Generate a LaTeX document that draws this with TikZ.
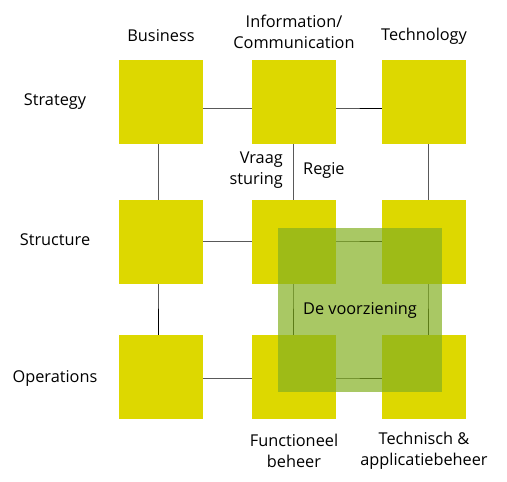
\documentclass[tikz,border=0pt]{standalone}
\usepackage{fontspec}
\setmainfont{Open Sans}
\usetikzlibrary{positioning}
\definecolor{squareyellow}{RGB}{221,216,0}
\definecolor{zonegreen}{RGB}{132,176,34}

\begin{document}
\begin{tikzpicture}[x=1pt,y=-1pt,
    every node/.style={font=\fontsize{16.3}{20.5}\selectfont}]
  \tikzstyle{blockY}=[rectangle,fill=squareyellow,minimum size=84pt,inner sep=0pt]
  \tikzstyle{link}=[line width=1pt,black]
  \tikzstyle{lbl}=[align=center,inner sep=0pt]
  \useasboundingbox (0,0) rectangle (507,482);

  % Grid junctions
  \coordinate (j11) at (158,108); \coordinate (j12) at (293,108); \coordinate (j13) at (428,108);
  \coordinate (j21) at (158,241); \coordinate (j22) at (293,241); \coordinate (j23) at (428,241);
  \coordinate (j31) at (158,378); \coordinate (j32) at (293,378); \coordinate (j33) at (428,378);

  % Links
  \draw[link] (j11) -- (j12) -- (j13);
  \draw[link] (j21) -- (j22) -- (j23);
  \draw[link] (j31) -- (j32) -- (j33);
  \draw[link] (j11) -- (j21) -- (j31);
  \draw[link] (j12) -- (j22) -- (j32);
  \draw[link] (j13) -- (j23) -- (j33);

  % Squares
  \node[blockY] (bs) at (161,102) {};
  \node[blockY] (is) at (294,102) {};
  \node[blockY] (ts) at (424,102) {};
  \node[blockY] (bt) at (161,241.5) {};
  \node[blockY] (it) at (294,241.5) {};
  \node[blockY] (tt) at (424,241.5) {};
  \node[blockY] (bo) at (161,376.5) {};
  \node[blockY] (io) at (294,376.5) {};
  \node[blockY] (to) at (424,376.5) {};

  % Voorziening
  \node[rectangle,fill=zonegreen,fill opacity=0.7,text opacity=1,minimum size=164pt,inner sep=0pt]
    (zone) at (360,310) {De voorziening};

  % Column labels
  \node[lbl] (business) at (161,36) {Business};
  \node[lbl] (info) at (294,32) {Information/\\Communication};
  \node[lbl] (tech) at (424,36) {Technology};

  % Row labels
  \node[lbl] (strategy) at (55,102) {Strategy};
  \node[lbl] (structure) at (55,240) {Structure};
  \node[lbl] (operations) at (55,378) {Operations};

  % Side labels
  \coordinate (mid) at (293,170);
  \node[lbl,align=right,left=10pt of mid] (vraag) {Vraag\\sturing};
  \node[lbl,right=10pt of mid] (regie) {Regie};
  \node[lbl] (functioneel) at (294,451) {Functioneel\\beheer};
  \node[lbl] (technisch) at (424,451) {Technisch \&\\applicatiebeheer};
\end{tikzpicture}
\end{document}
